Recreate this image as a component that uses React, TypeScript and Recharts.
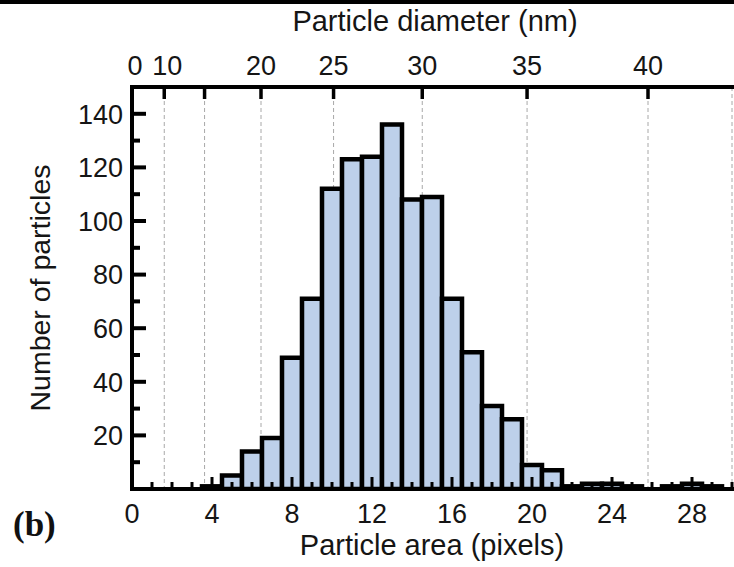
import React from 'react';
import { ComposedChart, Bar, XAxis, YAxis, CartesianGrid } from 'recharts';

// Histogram bins (particle area in pixels, bin centres) and counts
const binCenters = [1, 2, 3, 4, 5, 6, 7, 8, 9, 10, 11, 12, 13, 14, 15, 16, 17, 18, 19, 20, 21, 22, 23, 24, 25, 26, 27, 28, 29];
const counts = [0, 0, 0, 1, 5, 14, 19, 49, 71, 112, 123, 124, 136, 108, 109, 71, 51, 31, 26, 9, 7, 1, 2, 2, 1, 0, 1, 2, 1];

// Bottom axis (particle area)
const areaTicks = [0, 1, 2, 3, 4, 5, 6, 7, 8, 9, 10, 11, 12, 13, 14, 15, 16, 17, 18, 19, 20, 21, 22, 23, 24, 25, 26, 27, 28, 29, 30];
const areaLabelTicks = [0, 4, 8, 12, 16, 20, 24, 28];

// Left / right axis (counts)
const countTicks = [0, 10, 20, 30, 40, 50, 60, 70, 80, 90, 100, 110, 120, 130, 140, 150];
const countLabelTicks = [20, 40, 60, 80, 100, 120, 140];

// Top axis (particle diameter, nm)
const diameterTicks = [0, 10, 15, 20, 25, 30, 35, 40];
const diameterLabels = ['0', '10', '', '20', '25', '30', '35', '40'];
const areaPerNm2 = 0.016125; // pixel area per nm^2 of diameter squared
const diameterAreaTicks = diameterTicks.map((d) => d * d * areaPerNm2);

const data = binCenters.map((x, i) => ({ x, count: counts[i] }));

const FONT = '"Liberation Sans", Arial, Helvetica, sans-serif';
const TEXT = '#151515';

const BottomTick = (props: any) => {
  const { x, y, payload } = props;
  const v = payload.value;
  const major = areaLabelTicks.includes(v);
  const len = major ? 10 : 5;
  return (
    <g>
      <line x1={x} x2={x} y1={y - 2} y2={y - 2 - len} stroke="#000" strokeWidth={3} />
      {major && (
        <text x={x} y={y + 34} textAnchor="middle" fontSize={27} fontFamily={FONT} fill={TEXT}>
          {v}
        </text>
      )}
    </g>
  );
};

const LeftTick = (props: any) => {
  const { x, y, payload } = props;
  const v = payload.value;
  const major = v % 20 === 0;
  const len = major ? 12 : 6;
  return (
    <g>
      <line x1={x + 2} x2={x + 2 + len} y1={y} y2={y} stroke="#000" strokeWidth={4} />
      {countLabelTicks.includes(v) && (
        <text x={x - 9} y={y} dy="0.36em" textAnchor="end" fontSize={27} fontFamily={FONT} fill={TEXT}>
          {v}
        </text>
      )}
    </g>
  );
};

const RightTick = (props: any) => {
  const { x, y, payload } = props;
  const v = payload.value;
  const major = v % 20 === 0;
  const len = major ? 10 : 5;
  return <line x1={x - 2} x2={x - 2 - len} y1={y} y2={y} stroke="#000" strokeWidth={4} />;
};

const TopTick = (props: any) => {
  const { x, y, payload } = props;
  const idx = diameterAreaTicks.indexOf(payload.value);
  const label = idx >= 0 ? diameterLabels[idx] : '';
  return (
    <g>
      <line x1={x} x2={x} y1={y + 2} y2={y + 12} stroke="#000" strokeWidth={3.5} />
      {label && (
        <text x={x} dx={idx <= 1 ? 3 : 0} y={y - 12} textAnchor="middle" fontSize={27} fontFamily={FONT} fill={TEXT}>
          {label}
        </text>
      )}
    </g>
  );
};

const YTitle = (props: any) => {
  const vb = props.viewBox || {};
  const x = (vb.x || 0) + 50;
  const y = (vb.y || 0) + (vb.height || 0) / 2;
  return (
    <text x={x} y={y} transform={`rotate(-90, ${x}, ${y})`} textAnchor="middle" fontSize={28.5} fontFamily={FONT} fill={TEXT}>
      Number of particles
    </text>
  );
};

const TopTitle = (props: any) => {
  const vb = props.viewBox || {};
  const x = (vb.x || 0) + (vb.width || 0) / 2 + 3;
  const y = (vb.y || 0) + 31;
  return (
    <text x={x} y={y} textAnchor="middle" fontSize={29} fontFamily={FONT} fill={TEXT}>
      Particle diameter (nm)
    </text>
  );
};

const BottomTitle = (props: any) => {
  const vb = props.viewBox || {};
  const x = (vb.x || 0) + (vb.width || 0) / 2;
  const y = (vb.y || 0) + 66;
  return (
    <text x={x} y={y} textAnchor="middle" fontSize={29} fontFamily={FONT} fill={TEXT}>
      Particle area (pixels)
    </text>
  );
};

const axisLineStyle = { stroke: '#000', strokeWidth: 4, strokeLinecap: 'square' as const };

export default function App() {
  return (
    <div style={{ position: 'absolute', left: 0, top: 0, width: 734, height: 567, background: '#fff', overflow: 'hidden' }}>
      <div style={{ position: 'absolute', left: 0, top: 0, width: 734, height: 4, background: '#000' }} />
      <ComposedChart
        width={734}
        height={567}
        data={data}
        margin={{ top: 0, right: 2, bottom: 0, left: 0 }}
        barCategoryGap={0}
        barGap={0}
      >
        <CartesianGrid
          xAxisId="top"
          yAxisId="left"
          horizontal={false}
          vertical={true}
          stroke="#a8a8a8"
          strokeWidth={1}
          strokeDasharray="4 3"
        />
        <XAxis
          xAxisId="bottom"
          dataKey="x"
          type="number"
          domain={[0, 30]}
          ticks={areaTicks}
          interval={0}
          height={78}
          tickSize={0}
          tickMargin={0}
          tickLine={false}
          axisLine={axisLineStyle}
          tick={<BottomTick />}
          label={<BottomTitle />}
          allowDataOverflow
        />
        <XAxis
          xAxisId="top"
          dataKey="x"
          orientation="top"
          type="number"
          domain={[0, 30]}
          ticks={diameterAreaTicks}
          interval={0}
          height={87}
          tickSize={0}
          tickMargin={0}
          tickLine={false}
          axisLine={axisLineStyle}
          tick={<TopTick />}
          label={<TopTitle />}
          allowDataOverflow
        />
        <YAxis
          yAxisId="left"
          type="number"
          domain={[0, 150]}
          ticks={countTicks}
          interval={0}
          width={132}
          tickSize={0}
          tickMargin={0}
          tickLine={false}
          axisLine={axisLineStyle}
          tick={<LeftTick />}
          label={<YTitle />}
          allowDataOverflow
        />
        <YAxis
          yAxisId="right"
          orientation="right"
          type="number"
          domain={[0, 150]}
          ticks={countTicks}
          interval={0}
          width={0}
          tickSize={0}
          tickMargin={0}
          tickLine={false}
          axisLine={axisLineStyle}
          tick={<RightTick />}
          allowDataOverflow
        />
        <Bar
          xAxisId="bottom"
          yAxisId="left"
          dataKey="count"
          fill="#bdd0ea"
          stroke="#000"
          strokeWidth={4.5}
          isAnimationActive={false}
        />
      </ComposedChart>
      <svg style={{ position: 'absolute', left: 0, top: 0 }} width={120} height={567}>
        <text x={13} y={536} fontSize={35} fontWeight="bold" fontFamily='"Liberation Serif", "Times New Roman", serif' fill="#111">
          (b)
        </text>
      </svg>
    </div>
  );
}
